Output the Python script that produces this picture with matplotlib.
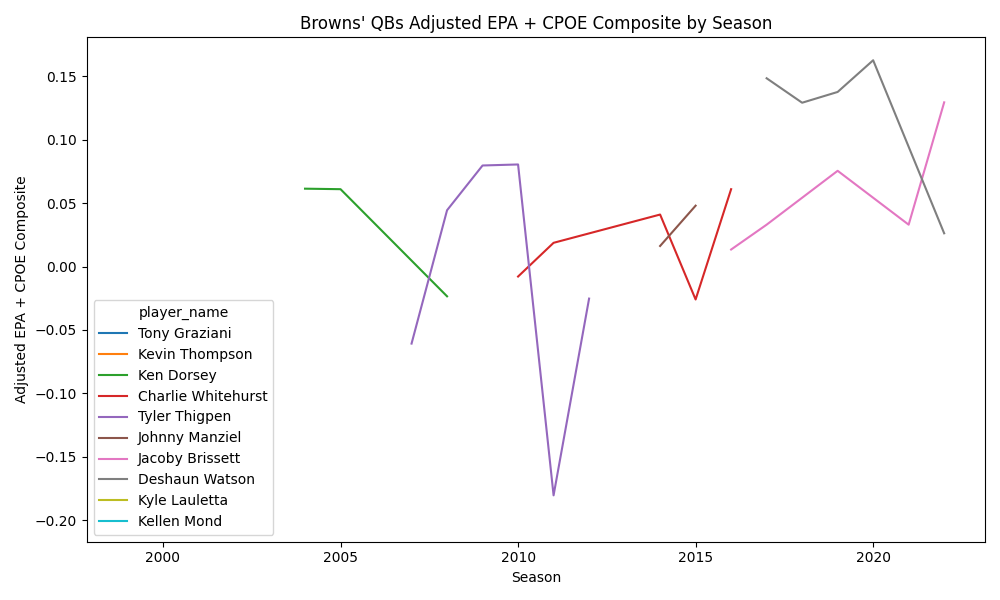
import numpy as np
import pandas as pd
import matplotlib
matplotlib.use("Agg")
import matplotlib.pyplot as plt
import seaborn as sns

players = [
    "Tony Graziani", "Kevin Thompson", "Ken Dorsey", "Charlie Whitehurst",
    "Tyler Thigpen", "Johnny Manziel", "Jacoby Brissett", "Deshaun Watson",
    "Kyle Lauletta", "Kellen Mond",
]

# seasons and composite values per player (single-season players draw no line)
graziani_seasons = [1999]
graziani_vals = [-0.199]
thompson_seasons = [1999]
thompson_vals = [-0.05]
dorsey_seasons = [2004, 2005, 2008]
dorsey_vals = [0.0614, 0.0610, -0.0235]
whitehurst_seasons = [2010, 2011, 2014, 2015, 2016]
whitehurst_vals = [-0.0079, 0.0187, 0.0410, -0.0260, 0.0610]
thigpen_seasons = [2007, 2008, 2009, 2010, 2011, 2012]
thigpen_vals = [-0.0608, 0.0444, 0.0797, 0.0805, -0.1805, -0.0253]
manziel_seasons = [2014, 2015]
manziel_vals = [0.0162, 0.0480]
brissett_seasons = [2016, 2017, 2019, 2021, 2022]
brissett_vals = [0.0134, 0.0330, 0.0755, 0.0330, 0.1295]
watson_seasons = [2017, 2018, 2019, 2020, 2022]
watson_vals = [0.1485, 0.1292, 0.1377, 0.1627, 0.0262]
lauletta_seasons = [2022]
lauletta_vals = [0.02]
mond_seasons = [2022]
mond_vals = [0.0]

seasons = [graziani_seasons, thompson_seasons, dorsey_seasons, whitehurst_seasons,
           thigpen_seasons, manziel_seasons, brissett_seasons, watson_seasons,
           lauletta_seasons, mond_seasons]
values = [graziani_vals, thompson_vals, dorsey_vals, whitehurst_vals,
          thigpen_vals, manziel_vals, brissett_vals, watson_vals,
          lauletta_vals, mond_vals]

rows = []
for name, ss, vv in zip(players, seasons, values):
    for s, v in zip(ss, vv):
        rows.append({"season": s, "player_name": name, "composite": v})
df = pd.DataFrame(rows)

fig, ax = plt.subplots(figsize=(10, 6))
sns.lineplot(data=df, x="season", y="composite", hue="player_name",
             hue_order=players, ax=ax)
sns.move_legend(ax, "lower left")
ax.set_title("Browns' QBs Adjusted EPA + CPOE Composite by Season")
ax.set_xlabel("Season")
ax.set_ylabel("Adjusted EPA + CPOE Composite")
plt.tight_layout()
plt.savefig("out.png", dpi=100)
